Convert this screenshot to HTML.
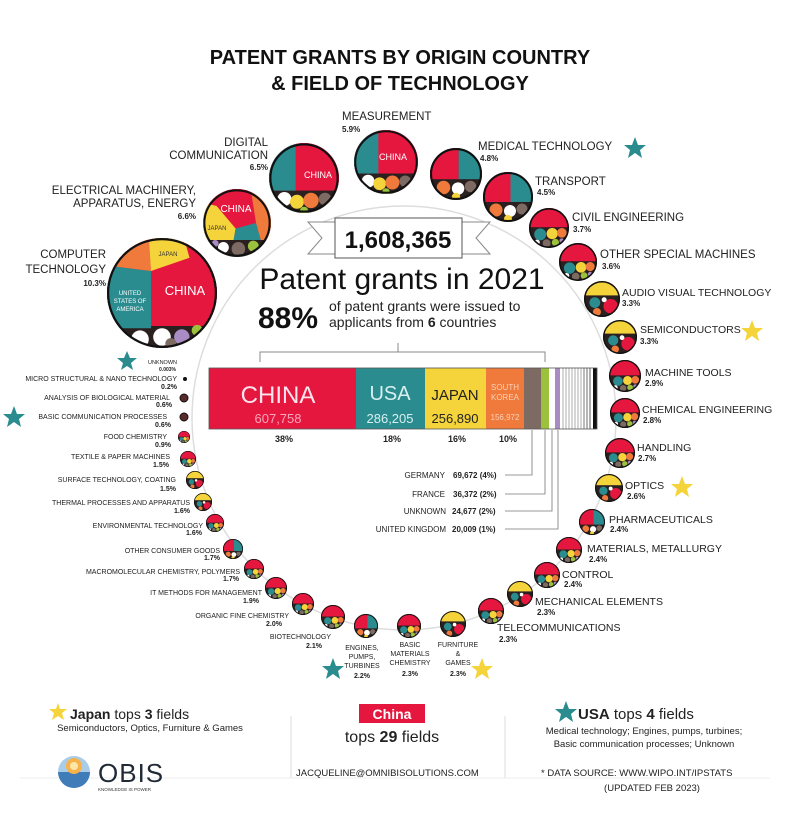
<!DOCTYPE html>
<html><head><meta charset="utf-8"><style>
html,body{margin:0;padding:0;background:#fff}
svg{display:block}
text{font-family:"Liberation Sans",sans-serif;fill:#222}
.L{font-size:11.5px}
.P{font-size:8px;font-weight:bold}
.s{font-size:7px}
.sp{font-size:7px;font-weight:bold}
</style></head><body>
<svg width="800" height="840" viewBox="0 0 800 840" xmlns="http://www.w3.org/2000/svg">
<defs>
<clipPath id="cc"><circle cx="50" cy="50" r="50"/></clipPath>
<symbol id="sm" viewBox="0 0 100 100">
<g clip-path="url(#cc)">
<rect width="100" height="100" fill="#2b2020"/>
<rect width="100" height="48" fill="#e5173f"/>
<circle cx="28" cy="66" r="15" fill="#2a8c8f"/>
<circle cx="58" cy="64" r="14" fill="#f5d33a"/>
<circle cx="82" cy="62" r="12" fill="#ef7a3b"/>
<circle cx="44" cy="88" r="10" fill="#7d6b63"/>
<circle cx="66" cy="86" r="9" fill="#9bc23c"/>
<circle cx="20" cy="86" r="7" fill="#fff"/>
<circle cx="82" cy="82" r="6" fill="#a98cc3"/>
</g>
<circle cx="50" cy="50" r="48" fill="none" stroke="#111" stroke-width="4"/>
</symbol>
<symbol id="sm2" viewBox="0 0 100 100">
<g clip-path="url(#cc)">
<rect width="100" height="100" fill="#2b2020"/>
<rect width="55" height="60" fill="#e5173f"/>
<rect x="55" width="45" height="60" fill="#2a8c8f"/>
<circle cx="26" cy="76" r="13" fill="#ef7a3b"/>
<circle cx="54" cy="78" r="12" fill="#fff"/>
<circle cx="78" cy="74" r="11" fill="#7d6b63"/>
<circle cx="50" cy="94" r="8" fill="#f5d33a"/>
</g>
<circle cx="50" cy="50" r="48" fill="none" stroke="#111" stroke-width="4"/>
</symbol>
<symbol id="smj" viewBox="0 0 100 100">
<g clip-path="url(#cc)">
<rect width="100" height="100" fill="#2b2020"/>
<rect width="100" height="40" fill="#f5d33a"/>
<circle cx="74" cy="70" r="20" fill="#e5173f"/>
<circle cx="30" cy="60" r="15" fill="#2a8c8f"/>
<circle cx="36" cy="86" r="11" fill="#ef7a3b"/>
<circle cx="56" cy="52" r="7" fill="#fff"/>
</g>
<circle cx="50" cy="50" r="48" fill="none" stroke="#111" stroke-width="4"/>
</symbol>
<symbol id="big" viewBox="0 0 100 100">
<g clip-path="url(#cc)">
<rect width="100" height="100" fill="#2b2020"/>
<polygon points="0,0 100,0 100,80 0,80" fill="#e5173f"/>
<polygon points="0,25 40,30 40,82 0,82" fill="#2a8c8f"/>
<polygon points="0,0 38,0 40,30 0,25" fill="#ef7a3b"/>
<polygon points="38,0 70,0 75,18 40,30" fill="#f5d33a"/>
<circle cx="30" cy="92" r="8" fill="#fff"/><circle cx="50" cy="90" r="8" fill="#fff"/>
<circle cx="68" cy="90" r="7" fill="#a98cc3"/><circle cx="82" cy="84" r="5" fill="#9bc23c"/>
<circle cx="58" cy="96" r="5" fill="#7d6b63"/>
</g>
<circle cx="50" cy="50" r="49" fill="none" stroke="#111" stroke-width="2"/>
</symbol>
<symbol id="mid" viewBox="0 0 100 100">
<g clip-path="url(#cc)">
<rect width="100" height="100" fill="#2b2020"/>
<rect width="100" height="68" fill="#e5173f"/>
<polygon points="0,0 38,0 38,68 0,68" fill="#2a8c8f"/>
<circle cx="22" cy="80" r="10" fill="#fff"/><circle cx="40" cy="84" r="10" fill="#f5d33a"/>
<circle cx="60" cy="82" r="11" fill="#ef7a3b"/><circle cx="80" cy="80" r="9" fill="#7d6b63"/>
<circle cx="50" cy="97" r="6" fill="#9bc23c"/>
</g>
<circle cx="50" cy="50" r="48" fill="none" stroke="#111" stroke-width="3"/>
</symbol>
<symbol id="elec" viewBox="0 0 100 100">
<g clip-path="url(#cc)">
<rect width="100" height="100" fill="#2b2020"/>
<rect width="100" height="75" fill="#e5173f"/>
<polygon points="0,20 20,25 48,58 45,75 0,75" fill="#f5d33a"/>
<polygon points="48,58 78,50 85,75 45,75" fill="#2a8c8f"/>
<polygon points="70,0 100,0 100,75 85,75 78,50" fill="#ef7a3b"/>
<circle cx="30" cy="86" r="8" fill="#fff"/><circle cx="52" cy="88" r="10" fill="#7d6b63"/>
<circle cx="74" cy="84" r="8" fill="#9bc23c"/><circle cx="18" cy="80" r="5" fill="#a98cc3"/>
</g>
<circle cx="50" cy="50" r="48" fill="none" stroke="#111" stroke-width="3"/>
</symbol>
</defs>

<!-- title -->
<text x="400" y="64" text-anchor="middle" style="font-size:20px;font-weight:bold;fill:#111">PATENT GRANTS BY ORIGIN COUNTRY</text>
<text x="400" y="90" text-anchor="middle" style="font-size:20px;font-weight:bold;fill:#111">&amp; FIELD OF TECHNOLOGY</text>

<!-- arc -->
<circle cx="404" cy="418" r="212" fill="none" stroke="#ddd" stroke-width="1.5"/>

<!-- big circles -->
<use href="#big" x="107" y="238" width="110" height="110"/>
<text x="185" y="295" text-anchor="middle" style="font-size:13px;fill:#fff">CHINA</text>
<text x="130" y="295" text-anchor="middle" style="font-size:6px;fill:#fff">UNITED</text>
<text x="130" y="303" text-anchor="middle" style="font-size:6px;fill:#fff">STATES OF</text>
<text x="130" y="311" text-anchor="middle" style="font-size:6px;fill:#fff">AMERICA</text>
<text x="168" y="256" text-anchor="middle" style="font-size:6px;fill:#333">JAPAN</text>
<use href="#elec" x="203" y="189" width="68" height="68"/>
<text x="236" y="212" text-anchor="middle" style="font-size:10px;fill:#fff">CHINA</text>
<text x="217" y="230" text-anchor="middle" style="font-size:6px;fill:#333">JAPAN</text>
<use href="#mid" x="269" y="143" width="70" height="70"/>
<text x="318" y="178" text-anchor="middle" style="font-size:9px;fill:#fff">CHINA</text>
<use href="#mid" x="354" y="130" width="64" height="64"/>
<text x="393" y="160" text-anchor="middle" style="font-size:9px;fill:#fff">CHINA</text>
<use href="#sm2" x="430" y="148" width="52" height="52"/>
<use href="#sm2" x="483" y="172" width="50" height="50"/>
<use href="#sm" x="529" y="208" width="40" height="40"/>
<use href="#sm" x="559" y="243" width="38" height="38"/>
<use href="#smj" x="584" y="281" width="36" height="36"/>
<use href="#smj" x="603" y="320" width="34" height="34"/>
<use href="#sm" x="609" y="360" width="32" height="32"/>
<use href="#sm" x="610" y="398" width="30" height="30"/>
<use href="#sm" x="605" y="438" width="30" height="30"/>
<use href="#smj" x="595" y="474" width="28" height="28"/>
<use href="#sm2" x="579" y="509" width="26" height="26"/>
<use href="#sm" x="556" y="537" width="26" height="26"/>
<use href="#sm" x="534" y="562" width="26" height="26"/>
<use href="#smj" x="507" y="581" width="26" height="26"/>
<use href="#sm" x="478" y="598" width="26" height="26"/>
<use href="#smj" x="440" y="611" width="26" height="26"/>
<use href="#sm" x="397" y="614" width="24" height="24"/>
<use href="#sm2" x="354" y="614" width="24" height="24"/>
<use href="#sm" x="321" y="605" width="24" height="24"/>
<use href="#sm" x="292" y="593" width="22" height="22"/>
<use href="#sm" x="265" y="577" width="22" height="22"/>
<use href="#sm" x="244" y="559" width="20" height="20"/>
<use href="#sm2" x="223" y="539" width="20" height="20"/>
<use href="#sm" x="206" y="514" width="18" height="18"/>
<use href="#smj" x="194" y="493" width="18" height="18"/>
<use href="#smj" x="186" y="471" width="18" height="18"/>
<use href="#sm" x="180" y="451" width="16" height="16"/>
<use href="#sm" x="178" y="431" width="12" height="12"/>
<circle cx="184" cy="417" r="4" fill="#5a2a2a" stroke="#111"/>
<circle cx="184" cy="398" r="4" fill="#5a2a2a" stroke="#111"/>
<circle cx="185" cy="379" r="2" fill="#111"/>

<!-- big labels -->
<g class="L">
<text x="106" y="258" text-anchor="end">COMPUTER</text>
<text x="106" y="273" text-anchor="end">TECHNOLOGY</text>
<text x="196" y="194" text-anchor="end">ELECTRICAL MACHINERY,</text>
<text x="196" y="207" text-anchor="end">APPARATUS, ENERGY</text>
<text x="268" y="146" text-anchor="end">DIGITAL</text>
<text x="268" y="159" text-anchor="end">COMMUNICATION</text>
<text x="342" y="120">MEASUREMENT</text>
<text x="478" y="150">MEDICAL TECHNOLOGY</text>
<text x="535" y="185">TRANSPORT</text>
<text x="572" y="221">CIVIL ENGINEERING</text>
<text x="600" y="258">OTHER SPECIAL MACHINES</text>
</g>
<g style="font-size:10.5px">
<text x="622" y="296">AUDIO VISUAL TECHNOLOGY</text>
<text x="640" y="333">SEMICONDUCTORS</text>
<text x="645" y="376">MACHINE TOOLS</text>
<text x="642" y="413">CHEMICAL ENGINEERING</text>
<text x="637" y="451">HANDLING</text>
<text x="625" y="489">OPTICS</text>
<text x="609" y="523">PHARMACEUTICALS</text>
<text x="587" y="552">MATERIALS, METALLURGY</text>
<text x="562" y="578">CONTROL</text>
<text x="535" y="605">MECHANICAL ELEMENTS</text>
<text x="497" y="631">TELECOMMUNICATIONS</text>
</g>
<g class="P">
<text x="106" y="286" text-anchor="end">10.3%</text>
<text x="196" y="219" text-anchor="end">6.6%</text>
<text x="268" y="170" text-anchor="end">6.5%</text>
<text x="342" y="132">5.9%</text>
<text x="480" y="161">4.8%</text>
<text x="537" y="195">4.5%</text>
<text x="573" y="232">3.7%</text>
<text x="602" y="269">3.6%</text>
<text x="622" y="306">3.3%</text>
<text x="640" y="344">3.3%</text>
<text x="645" y="386">2.9%</text>
<text x="643" y="423">2.8%</text>
<text x="638" y="461">2.7%</text>
<text x="627" y="499">2.6%</text>
<text x="610" y="532">2.4%</text>
<text x="589" y="562">2.4%</text>
<text x="564" y="587">2.4%</text>
<text x="537" y="615">2.3%</text>
<text x="499" y="642">2.3%</text>
</g>
<!-- bottom labels -->
<g class="s" text-anchor="middle">
<text x="458" y="647">FURNITURE</text><text x="458" y="656">&amp;</text><text x="458" y="665">GAMES</text>
<text x="410" y="647">BASIC</text><text x="410" y="656">MATERIALS</text><text x="410" y="665">CHEMISTRY</text>
<text x="362" y="650">ENGINES,</text><text x="362" y="659">PUMPS,</text><text x="362" y="668">TURBINES</text>
</g>
<g class="sp" text-anchor="middle">
<text x="458" y="676">2.3%</text><text x="410" y="676">2.3%</text><text x="362" y="678">2.2%</text>
</g>
<g class="s" text-anchor="end">
<text x="331" y="639">BIOTECHNOLOGY</text>
<text x="289" y="618">ORGANIC FINE CHEMISTRY</text>
<text x="262" y="595">IT METHODS FOR MANAGEMENT</text>
<text x="240" y="574">MACROMOLECULAR CHEMISTRY, POLYMERS</text>
<text x="220" y="553">OTHER CONSUMER GOODS</text>
<text x="203" y="528">ENVIRONMENTAL TECHNOLOGY</text>
<text x="190" y="505">THERMAL PROCESSES AND APPARATUS</text>
<text x="176" y="482">SURFACE TECHNOLOGY, COATING</text>
<text x="170" y="459">TEXTILE &amp; PAPER MACHINES</text>
<text x="167" y="439">FOOD CHEMISTRY</text>
<text x="167" y="419">BASIC COMMUNICATION PROCESSES</text>
<text x="170" y="400">ANALYSIS OF BIOLOGICAL MATERIAL</text>
<text x="177" y="381">MICRO STRUCTURAL &amp; NANO TECHNOLOGY</text>
<text x="177" y="364" style="font-size:5.5px">UNKNOWN</text>
</g>
<g class="sp" text-anchor="end">
<text x="322" y="648">2.1%</text>
<text x="282" y="626">2.0%</text>
<text x="259" y="603">1.9%</text>
<text x="239" y="581">1.7%</text>
<text x="220" y="560">1.7%</text>
<text x="202" y="535">1.6%</text>
<text x="190" y="513">1.6%</text>
<text x="176" y="491">1.5%</text>
<text x="169" y="467">1.5%</text>
<text x="171" y="447">0.9%</text>
<text x="171" y="427">0.6%</text>
<text x="172" y="407">0.6%</text>
<text x="177" y="389">0.2%</text>
<text x="176" y="371" style="font-size:5px">0.003%</text>
</g>
<!-- stars -->
<g fill="#2a8c8f">
<polygon points="635,137 638,145 646,145 640,150 642,158 635,153 628,158 630,150 624,145 632,145"/>
<polygon points="127,351 130,358 137,358 131,363 133,370 127,366 121,370 123,363 117,358 124,358"/>
<polygon points="14,406 17,414 25,414 19,419 21,427 14,422 7,427 9,419 3,414 11,414"/>
<polygon points="333,658 336,666 344,666 338,671 340,679 333,674 326,679 328,671 322,666 330,666"/>
</g>
<g fill="#f5d33a">
<polygon points="752,320 755,328 763,328 757,333 759,341 752,336 745,341 747,333 741,328 749,328"/>
<polygon points="682,476 685,484 693,484 687,489 689,497 682,492 675,497 677,489 671,484 679,484"/>
<polygon points="482,658 485,666 493,666 487,671 489,679 482,674 475,679 477,671 471,666 479,666"/>
</g>

<!-- ribbon -->
<polygon points="308,222 338,222 338,254 308,254 322,238" fill="#fff" stroke="#888"/>
<polygon points="490,222 460,222 460,254 490,254 476,238" fill="#fff" stroke="#888"/>
<rect x="335" y="218" width="127" height="40" fill="#fff" stroke="#555"/>
<text x="398" y="248" text-anchor="middle" style="font-size:24px;font-weight:bold;fill:#111">1,608,365</text>
<text x="402" y="289" text-anchor="middle" style="font-size:30px;fill:#111">Patent grants in 2021</text>
<text x="288" y="328" text-anchor="middle" style="font-size:30px;font-weight:bold;fill:#111">88%</text>
<text x="329" y="311" style="font-size:14px;fill:#222">of patent grants were issued to</text>
<text x="329" y="327" style="font-size:14px;fill:#222">applicants from <tspan font-weight="bold">6</tspan> countries</text>
<!-- bracket -->
<path d="M260,362 V352 H545 V362 M398,352 V343" fill="none" stroke="#888"/>

<!-- bar -->
<rect x="209" y="368" width="147" height="61" fill="#e5173f"/>
<rect x="356" y="368" width="69" height="61" fill="#2a8c8f"/>
<rect x="425" y="368" width="61" height="61" fill="#f5d33a"/>
<rect x="486" y="368" width="38" height="61" fill="#ef7a3b"/>
<rect x="524" y="368" width="17" height="61" fill="#7d6b63"/>
<rect x="541" y="368" width="8" height="61" fill="#9bc23c"/>
<rect x="549" y="368" width="6" height="61" fill="#fff"/>
<rect x="555" y="368" width="5" height="61" fill="#a98cc3"/>
<g stroke="#999" stroke-width="0.8">
<line x1="563" y1="368" x2="563" y2="429"/><line x1="566" y1="368" x2="566" y2="429"/>
<line x1="569" y1="368" x2="569" y2="429"/><line x1="572" y1="368" x2="572" y2="429"/>
<line x1="575" y1="368" x2="575" y2="429"/><line x1="578" y1="368" x2="578" y2="429"/>
<line x1="581" y1="368" x2="581" y2="429"/><line x1="584" y1="368" x2="584" y2="429" stroke="#555"/>
<line x1="587" y1="368" x2="587" y2="429" stroke="#444"/><line x1="590" y1="368" x2="590" y2="429" stroke="#333"/>
</g>
<rect x="593" y="368" width="4" height="61" fill="#111"/>
<rect x="209" y="368" width="388" height="61" fill="none" stroke="#555" stroke-width="0.8"/>
<text x="278" y="403" text-anchor="middle" style="font-size:24px;fill:#fce4ec">CHINA</text>
<text x="278" y="423" text-anchor="middle" style="font-size:13px;fill:#f8a6bb">607,758</text>
<text x="390" y="400" text-anchor="middle" style="font-size:20px;fill:#d8f0f0">USA</text>
<text x="390" y="423" text-anchor="middle" style="font-size:13px;fill:#d8f0f0">286,205</text>
<text x="455" y="400" text-anchor="middle" style="font-size:15px;fill:#222">JAPAN</text>
<text x="455" y="423" text-anchor="middle" style="font-size:13px;fill:#222">256,890</text>
<text x="505" y="390" text-anchor="middle" style="font-size:8px;fill:#fbd2b8">SOUTH</text>
<text x="505" y="400" text-anchor="middle" style="font-size:8px;fill:#fbd2b8">KOREA</text>
<text x="505" y="420" text-anchor="middle" style="font-size:8px;fill:#fbd2b8">156,972</text>
<g style="font-size:9px;font-weight:bold" text-anchor="middle">
<text x="284" y="442">38%</text><text x="392" y="442">18%</text><text x="457" y="442">16%</text><text x="508" y="442">10%</text>
</g>
<g fill="none" stroke="#777" stroke-width="0.8">
<path d="M505,475 H532 V430"/><path d="M505,494 H545 V430"/><path d="M505,511 H552 V430"/><path d="M505,529 H558 V430"/>
</g>
<g style="font-size:8px" text-anchor="end">
<text x="445" y="478">GERMANY</text><text x="445" y="497">FRANCE</text><text x="446" y="514">UNKNOWN</text><text x="446" y="532">UNITED KINGDOM</text>
</g>
<g style="font-size:8px;font-weight:bold">
<text x="453" y="478">69,672 (4%)</text><text x="453" y="497">36,372 (2%)</text><text x="452" y="514">24,677 (2%)</text><text x="452" y="532">20,009 (1%)</text>
</g>

<!-- footer -->
<polygon points="58,703 60,709 67,709 62,713 64,720 58,716 52,720 54,713 49,709 56,709" fill="#f5d33a"/>
<text x="70" y="719" style="font-size:14px"><tspan font-weight="bold">Japan</tspan> tops <tspan font-weight="bold">3</tspan> fields</text>
<text x="150" y="731" text-anchor="middle" style="font-size:9.5px">Semiconductors, Optics, Furniture &amp; Games</text>
<line x1="291" y1="716" x2="291" y2="778" stroke="#ddd"/>
<line x1="505" y1="716" x2="505" y2="778" stroke="#ddd"/>
<rect x="359" y="704" width="66" height="19" fill="#e5173f"/>
<text x="392" y="719" text-anchor="middle" style="font-size:14px;font-weight:bold;fill:#fff">China</text>
<text x="392" y="742" text-anchor="middle" style="font-size:16px">tops <tspan font-weight="bold">29</tspan> fields</text>
<polygon points="566,701 569,709 577,709 571,714 573,722 566,717 559,722 561,714 555,709 563,709" fill="#2a8c8f"/>
<text x="578" y="719" style="font-size:15px"><tspan font-weight="bold">USA</tspan> tops <tspan font-weight="bold">4</tspan> fields</text>
<text x="644" y="734" text-anchor="middle" style="font-size:9.5px">Medical technology; Engines, pumps, turbines;</text>
<text x="644" y="747" text-anchor="middle" style="font-size:9.5px">Basic communication processes; Unknown</text>
<line x1="20" y1="778" x2="770" y2="778" stroke="#eee"/>
<!-- logo -->
<circle cx="74" cy="772" r="16" fill="#a9cce8"/>
<path d="M58,772 A16,16 0 0 0 90,772 Z" fill="#3f7cb8"/>
<circle cx="74" cy="766" r="8" fill="#f7b24a"/>
<circle cx="74" cy="766" r="4" fill="#fde6a8"/>
<text x="98" y="782" style="font-size:26px;fill:#1f2a36;letter-spacing:1px">OBIS</text>
<text x="98" y="791" style="font-size:4.5px;fill:#333">KNOWLEDGE IS POWER</text>
<text x="296" y="776" style="font-size:9.5px">JACQUELINE@OMNIBISOLUTIONS.COM</text>
<text x="541" y="776" style="font-size:9.5px">* DATA SOURCE:  WWW.WIPO.INT/IPSTATS</text>
<text x="652" y="791" text-anchor="middle" style="font-size:9.5px">(UPDATED FEB 2023)</text>
</svg>
</body></html>
